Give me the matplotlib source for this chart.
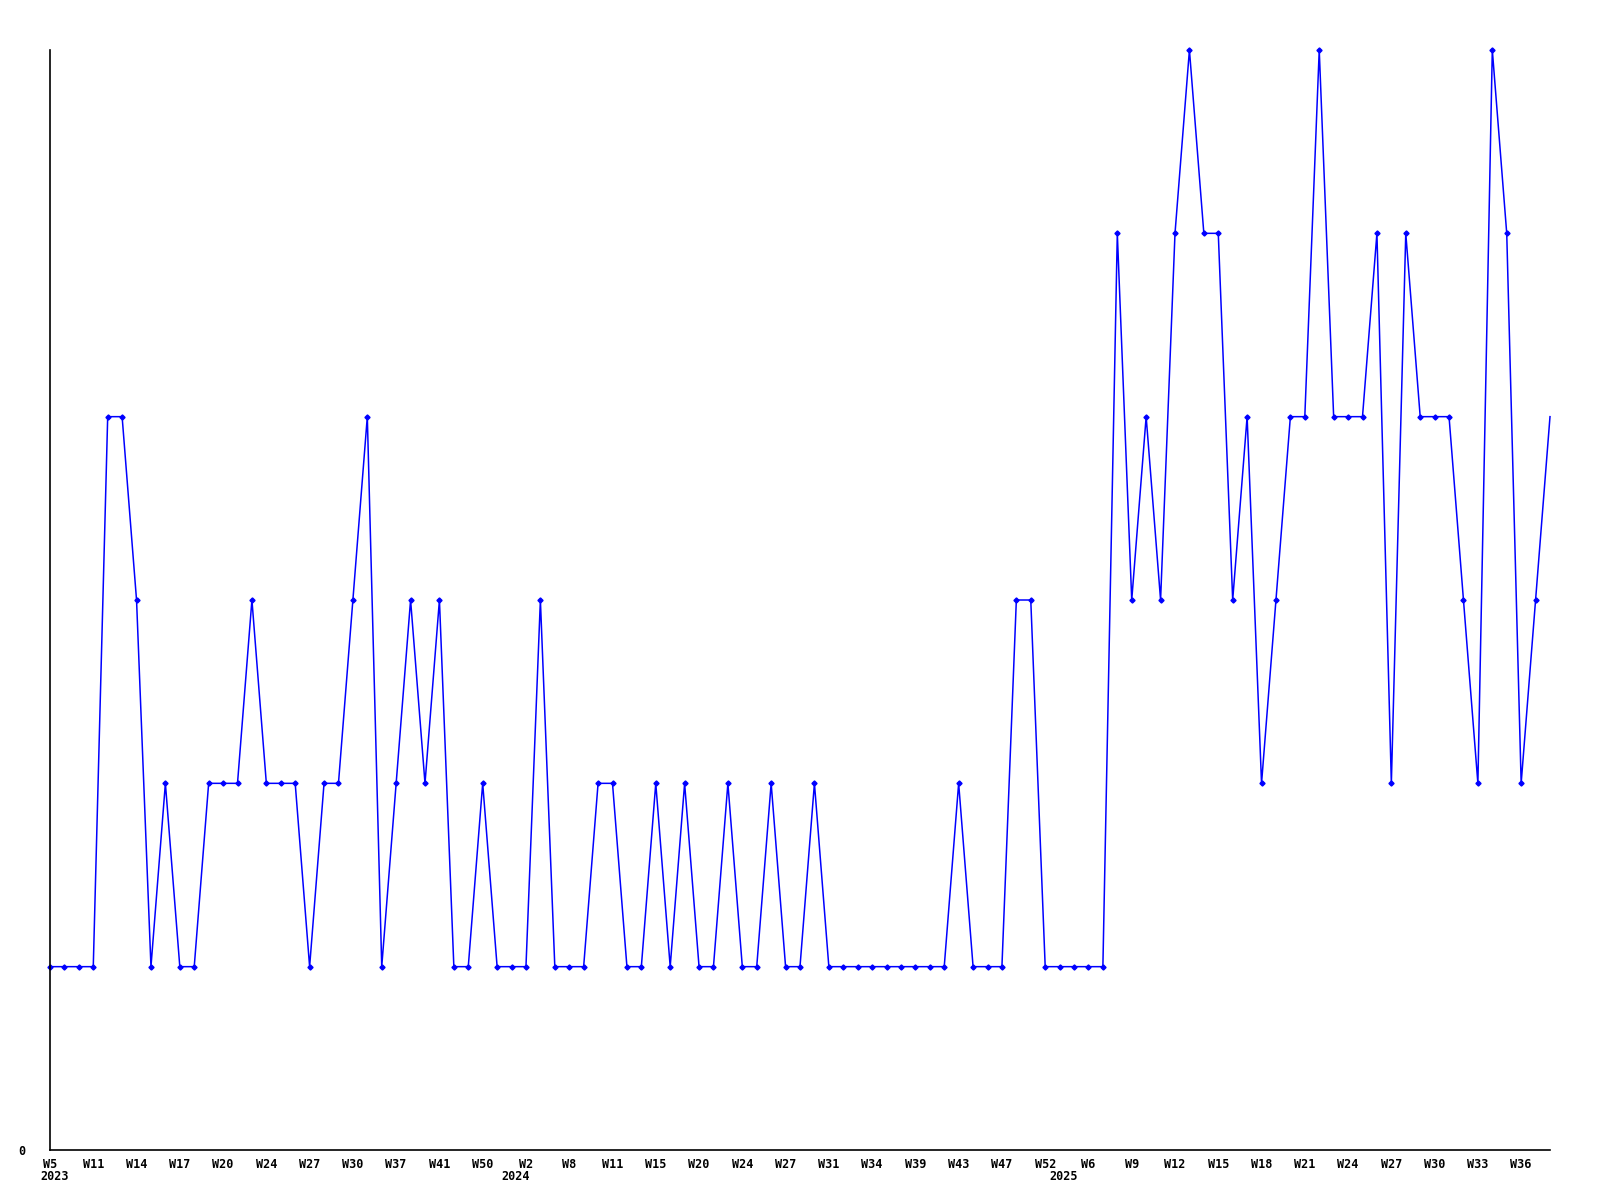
"""Weekly count line chart, 2023 W5 - 2025 W36."""

import matplotlib
matplotlib.use("Agg")
import matplotlib.pyplot as plt

# one value per reported week (weeks without data are skipped)
values = [
    1, 1, 1, 1, 4, 4, 3, 1, 2, 1,
    1, 2, 2, 2, 3, 2, 2, 2, 1, 2,
    2, 3, 4, 1, 2, 3, 2, 3, 1, 1,
    2, 1, 1, 1, 3, 1, 1, 1, 2, 2,
    1, 1, 2, 1, 2, 1, 1, 2, 1, 1,
    2, 1, 1, 2, 1, 1, 1, 1, 1, 1,
    1, 1, 1, 2, 1, 1, 1, 3, 3, 1,
    1, 1, 1, 1, 5, 3, 4, 3, 5, 6,
    5, 5, 3, 4, 2, 3, 4, 4, 6, 4,
    4, 4, 5, 2, 5, 4, 4, 4, 3, 2,
    6, 5, 2, 3, 4,
]

# a week label on every third point
week_labels = [
    "W5", "W11", "W14", "W17", "W20", "W24", "W27", "W30", "W37", "W41",
    "W50", "W2", "W8", "W11", "W15", "W20", "W24", "W27", "W31", "W34",
    "W39", "W43", "W47", "W52", "W6", "W9", "W12", "W15", "W18", "W21",
    "W24", "W27", "W30", "W33", "W36",
]
label_step = 3

# year names under the first point of each year
years = ["2023", "2024", "2025"]
year_start_idx = [0, 32, 70]

font = dict(family="DejaVu Sans Mono", fontweight="bold", fontsize=8.5)

fig = plt.figure(figsize=(16, 12), dpi=100)
ax = fig.add_axes([50 / 1600, 50 / 1200, 1500 / 1600, 1100 / 1200])

x = list(range(len(values)))
ax.plot(x, values, color="#0000ff", linewidth=1.1, marker="D", markersize=2.6,
        markevery=list(range(len(values) - 1)), clip_on=False)

ax.set_xlim(0, len(values) - 1)
ax.set_ylim(0, 6)

ax.set_xticks(x[::label_step])
ax.set_xticklabels(week_labels, **font)
ax.set_yticks([0])
ax.set_yticklabels(["0"], **font)
ax.tick_params(axis="both", length=0)
ax.tick_params(axis="x", pad=6)
ax.tick_params(axis="y", pad=18)

for name, idx in zip(years, year_start_idx):
    ax.annotate(name, xy=(idx, -0.0245), xycoords=ax.get_xaxis_transform(),
                xytext=(3, 0), textcoords="offset points",
                ha="center", va="center", **font)

for side in ["top", "right"]:
    ax.spines[side].set_visible(False)
for side in ["left", "bottom"]:
    ax.spines[side].set_color("black")
    ax.spines[side].set_linewidth(1.2)

fig.savefig("out.png", dpi=100)
